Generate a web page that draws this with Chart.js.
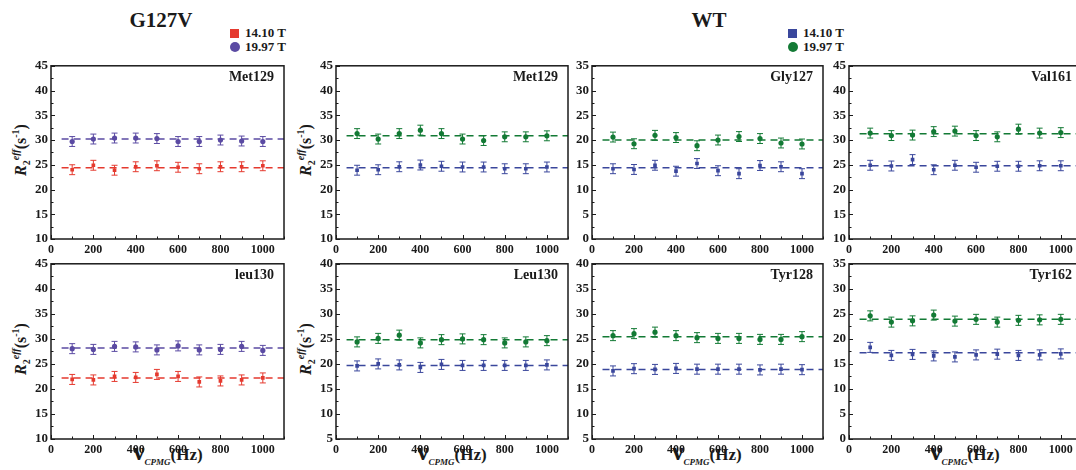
<!DOCTYPE html>
<html>
<head>
<meta charset="utf-8">
<title>R2eff dispersion profiles</title>
<script src="https://cdn.jsdelivr.net/npm/chart.js@4.4.0/dist/chart.umd.min.js"></script>
<style>
  html, body { margin: 0; padding: 0; background: #fff; overflow: hidden; }
  #page { position: relative; width: 1076px; height: 470px; overflow: hidden; font-family: "Liberation Serif", "Times New Roman", serif; color: #1a1a1a; }
  canvas.panel { position: absolute; }
  .title { position: absolute; font-weight: bold; font-size: 21px; transform: translateX(-50%); }
  .legend { position: absolute; font-weight: bold; font-size: 13px; line-height: 14px; }
  .legend .row { display: flex; align-items: center; height: 14px; }
  .legend .sq { width: 9px; height: 9px; margin-right: 6px; }
  .legend .dot { width: 10px; height: 10px; border-radius: 50%; margin-right: 5px; }
  .ytitle { position: absolute; font-weight: bold; font-size: 16px; white-space: nowrap; transform: translate(-50%, -50%) rotate(-90deg); }
  .ytitle i { font-style: italic; }
  .ytitle sub, .ytitle sup { font-size: 10px; }
  .xtitle { position: absolute; font-weight: bold; white-space: nowrap; transform: translateX(-50%); line-height: 20px; }
  .xtitle .nu { font-size: 25px; }
  .xtitle .sub { font-size: 9px; font-style: italic; position: relative; top: 5px; }
  .xtitle .hz { font-size: 17px; }
</style>
</head>
<body>
<div id="page">
  <div class="title" style="left:161px; top:8px;">G127V</div>
  <div class="title" style="left:709px; top:8px;">WT</div>

  <div class="legend" style="left:230px; top:26px;">
    <div class="row"><div class="sq" style="background:#e53a2f"></div>14.10 T</div>
    <div class="row"><div class="dot" style="background:#5b4ba3"></div>19.97 T</div>
  </div>
  <div class="legend" style="left:788px; top:26px;">
    <div class="row"><div class="sq" style="background:#3a479c"></div>14.10 T</div>
    <div class="row"><div class="dot" style="background:#137a35"></div>19.97 T</div>
  </div>

  <div class="ytitle" style="left:21px; top:150px;"><i>R</i><sub>2</sub><sup><i>eff</i></sup>(s<sup>-1</sup>)</div>
  <div class="ytitle" style="left:21px; top:349px;"><i>R</i><sub>2</sub><sup><i>eff</i></sup>(s<sup>-1</sup>)</div>
  <div class="ytitle" style="left:306px; top:150px;"><i>R</i><sub>2</sub><sup><i>eff</i></sup>(s<sup>-1</sup>)</div>
  <div class="ytitle" style="left:306px; top:349px;"><i>R</i><sub>2</sub><sup><i>eff</i></sup>(s<sup>-1</sup>)</div>

  <div class="xtitle" style="left:168px; top:442px;"><span class="nu">ν</span><span class="sub">CPMG</span><span class="hz">(Hz)</span></div>
  <div class="xtitle" style="left:452px; top:442px;"><span class="nu">ν</span><span class="sub">CPMG</span><span class="hz">(Hz)</span></div>
  <div class="xtitle" style="left:707px; top:442px;"><span class="nu">ν</span><span class="sub">CPMG</span><span class="hz">(Hz)</span></div>
  <div class="xtitle" style="left:965px; top:442px;"><span class="nu">ν</span><span class="sub">CPMG</span><span class="hz">(Hz)</span></div>
</div>

<script>
// CPMG frequencies (Hz)
const freq = [100, 200, 300, 400, 500, 600, 700, 800, 900, 1000];
const xTicks = [0, 200, 400, 600, 800, 1000];
const errBar = [1.0, 1.0, 1.0, 1.0, 1.0, 1.0, 1.0, 1.0, 1.0, 1.0];

// G127V
const g127vMet129Low  = [24.0, 24.9, 23.9, 24.6, 24.8, 24.5, 24.2, 24.6, 24.6, 24.8];
const g127vMet129High = [29.7, 30.2, 30.4, 30.4, 30.3, 29.7, 29.7, 30.0, 29.8, 29.7];
const g127vMet129Fit  = [24.4, 30.2];
const g127vLeu130Low  = [21.9, 21.8, 22.5, 22.3, 22.9, 22.5, 21.4, 21.6, 21.8, 22.2];
const g127vLeu130High = [28.05, 27.9, 28.5, 28.4, 27.8, 28.6, 27.8, 27.9, 28.5, 27.7];
const g127vLeu130Fit  = [22.2, 28.2];

// WT
const wtMet129Low  = [23.9, 24.0, 24.6, 24.95, 24.7, 24.55, 24.55, 24.2, 24.2, 24.55];
const wtMet129High = [31.3, 30.2, 31.3, 32.0, 31.3, 30.2, 29.9, 30.65, 30.65, 30.85];
const wtMet129Fit  = [24.4, 30.85];
const wtLeu130Low  = [19.6, 20.0, 19.8, 19.3, 19.9, 19.7, 19.7, 19.7, 19.7, 19.8];
const wtLeu130High = [24.4, 25.1, 25.75, 24.2, 24.85, 25.0, 24.85, 24.2, 24.4, 24.65];
const wtLeu130Fit  = [19.7, 24.85];
const wtGly127Low  = [14.2, 14.05, 14.9, 13.7, 15.25, 13.8, 13.2, 14.85, 14.6, 13.2];
const wtGly127High = [20.6, 19.25, 20.95, 20.5, 18.85, 20.0, 20.7, 20.3, 19.4, 19.2];
const wtGly127Fit  = [14.4, 20.0];
const wtTyr128Low  = [18.6, 19.05, 18.9, 19.1, 18.95, 18.95, 18.95, 18.8, 18.95, 18.85];
const wtTyr128High = [25.65, 26.05, 26.35, 25.65, 25.25, 25.1, 25.1, 24.9, 24.9, 25.45];
const wtTyr128Fit  = [18.9, 25.45];
const wtVal161Low  = [24.9, 24.75, 26.05, 24.0, 24.9, 24.5, 24.7, 24.7, 24.8, 24.8];
const wtVal161High = [31.4, 30.9, 31.0, 31.7, 31.8, 30.9, 30.65, 32.2, 31.4, 31.5];
const wtVal161Fit  = [24.8, 31.25];
const wtTyr162Low  = [18.3, 16.7, 16.9, 16.6, 16.4, 16.8, 16.95, 16.7, 16.8, 17.0];
const wtTyr162High = [24.6, 23.35, 23.6, 24.75, 23.55, 23.9, 23.35, 23.7, 23.8, 23.9];
const wtTyr162Fit  = [17.25, 23.9];

const FONT = '"Liberation Serif", "Times New Roman", serif';
const INK = '#1a1a1a';
const mutColors = ['#e53a2f', '#5b4ba3'];
const wtColors  = ['#3a479c', '#137a35'];

// frame, inward ticks, error bars and residue label
const framePlugin = {
  id: 'frame',
  afterDatasetsDraw(chart) {
    const { ctx, chartArea: a, scales: { x, y } } = chart;
    ctx.save();
    // error bars
    chart.data.datasets.forEach(ds => {
      if (!ds.errors) return;
      ctx.strokeStyle = ds.borderColor;
      ctx.lineWidth = 1;
      ds.data.forEach((p, j) => {
        const px = x.getPixelForValue(p.x);
        const top = y.getPixelForValue(p.y + ds.errors[j]);
        const bot = y.getPixelForValue(p.y - ds.errors[j]);
        ctx.beginPath();
        ctx.moveTo(px, top); ctx.lineTo(px, bot);
        ctx.moveTo(px - 3, top); ctx.lineTo(px + 3, top);
        ctx.moveTo(px - 3, bot); ctx.lineTo(px + 3, bot);
        ctx.stroke();
      });
    });
    // ticks
    ctx.strokeStyle = INK;
    ctx.lineWidth = 1;
    ctx.beginPath();
    for (let v = y.min; v <= y.max + 0.01; v += 2.5) {
      const py = Math.round(y.getPixelForValue(v)) + 0.5;
      const len = (Math.round(v / 2.5) % 2 === 0) ? 4 : 2.5;
      ctx.moveTo(a.left, py); ctx.lineTo(a.left + len, py);
    }
    for (let v = 0; v <= 1100; v += 100) {
      const px = Math.round(x.getPixelForValue(v)) + 0.5;
      const len = (v % 200 === 0) ? 4 : 2.5;
      ctx.moveTo(px, a.bottom); ctx.lineTo(px, a.bottom - len);
    }
    ctx.stroke();
    // frame
    ctx.lineWidth = 1.5;
    ctx.strokeRect(a.left, a.top, a.right - a.left, a.bottom - a.top);
    // residue label
    ctx.fillStyle = INK;
    ctx.font = 'bold 14px ' + FONT;
    ctx.textAlign = 'right';
    ctx.textBaseline = 'alphabetic';
    ctx.fillText(chart.options.plugins.frame.label, a.right - 10, a.top + 15);
    ctx.restore();
  }
};

function makePanel(box, yMin, yMax, label, low, high, fit, colors) {
  const padL = 46, padR = 4, padT = 6, padB = 20;
  const canvas = document.createElement('canvas');
  canvas.className = 'panel';
  const w = box.right - box.left + padL + padR;
  const h = box.bottom - box.top + padT + padB;
  canvas.style.left = (box.left - padL) + 'px';
  canvas.style.top = (box.top - padT) + 'px';
  canvas.style.width = w + 'px';
  canvas.style.height = h + 'px';
  canvas.width = w; canvas.height = h;
  document.getElementById('page').appendChild(canvas);

  const pts = vals => freq.map((f, i) => ({ x: f, y: vals[i] }));
  const line = v => [{ x: 50, y: v }, { x: 1100, y: v }];
  const tickFont = size => ({ family: FONT, size: size, weight: 'bold' });

  new Chart(canvas, {
    type: 'scatter',
    data: {
      datasets: [
        { data: line(fit[0]), showLine: true, borderColor: colors[0], borderWidth: 1.5, borderDash: [7, 5], pointRadius: 0 },
        { data: line(fit[1]), showLine: true, borderColor: colors[1], borderWidth: 1.5, borderDash: [7, 5], pointRadius: 0 },
        { label: '14.10 T', data: pts(low), errors: errBar, pointStyle: 'rect', pointRadius: 2.6,
          backgroundColor: colors[0], borderColor: colors[0], borderWidth: 0 },
        { label: '19.97 T', data: pts(high), errors: errBar, pointStyle: 'circle', pointRadius: 2.6,
          backgroundColor: colors[1], borderColor: colors[1], borderWidth: 0 }
      ]
    },
    options: {
      responsive: false,
      animation: false,
      layout: { padding: { left: 0, right: padR, top: padT, bottom: 0 } },
      plugins: { legend: { display: false }, tooltip: { enabled: false }, frame: { label: label } },
      scales: {
        x: {
          type: 'linear', min: 0, max: 1100,
          afterBuildTicks: s => { s.ticks = xTicks.map(v => ({ value: v })); },
          afterFit: s => { s.height = padB; },
          grid: { display: false, drawTicks: false }, border: { display: false },
          ticks: { padding: 4, maxRotation: 0, color: INK, font: tickFont(12), callback: v => String(v) }
        },
        y: {
          type: 'linear', min: yMin, max: yMax,
          afterBuildTicks: s => {
            const t = [];
            for (let v = yMin; v <= yMax; v += 5) t.push({ value: v });
            s.ticks = t;
          },
          afterFit: s => { s.width = padL; },
          grid: { display: false, drawTicks: false }, border: { display: false },
          ticks: { padding: 3, color: INK, font: tickFont(13), callback: v => String(v) }
        }
      }
    },
    plugins: [framePlugin]
  });
}

const cols = [[51, 284], [336, 568], [592, 823], [849, 1082]];
const rows = [[61, 239], [259, 439]];
const B = (c, r) => ({ left: cols[c][0], right: cols[c][1], top: rows[r][0], bottom: rows[r][1] });

makePanel(B(0, 0), 10, 45, 'Met129', g127vMet129Low, g127vMet129High, g127vMet129Fit, mutColors);
makePanel(B(0, 1), 10, 45, 'leu130', g127vLeu130Low, g127vLeu130High, g127vLeu130Fit, mutColors);
makePanel(B(1, 0), 10, 45, 'Met129', wtMet129Low, wtMet129High, wtMet129Fit, wtColors);
makePanel(B(1, 1), 5, 40, 'Leu130', wtLeu130Low, wtLeu130High, wtLeu130Fit, wtColors);
makePanel(B(2, 0), 0, 35, 'Gly127', wtGly127Low, wtGly127High, wtGly127Fit, wtColors);
makePanel(B(2, 1), 5, 40, 'Tyr128', wtTyr128Low, wtTyr128High, wtTyr128Fit, wtColors);
makePanel(B(3, 0), 10, 45, 'Val161', wtVal161Low, wtVal161High, wtVal161Fit, wtColors);
makePanel(B(3, 1), 0, 35, 'Tyr162', wtTyr162Low, wtTyr162High, wtTyr162Fit, wtColors);
</script>
</body>
</html>
